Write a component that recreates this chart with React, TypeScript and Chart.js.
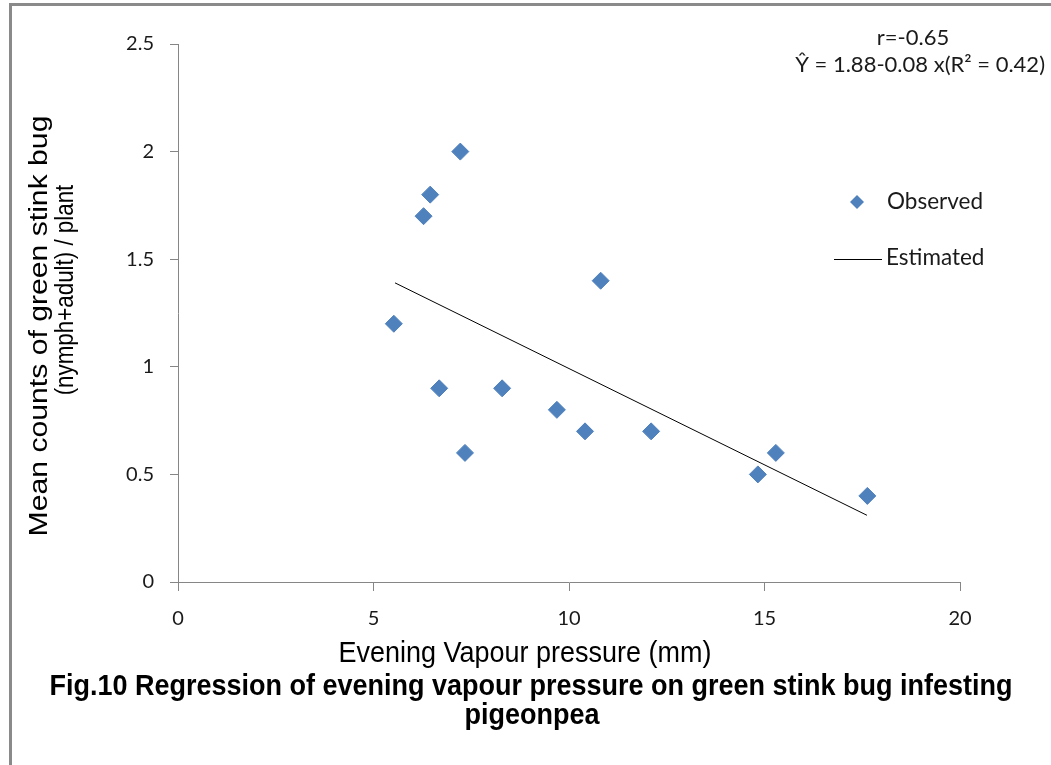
import React, { useEffect, useRef } from "react";
import { Chart, registerables } from "chart.js";

Chart.register(...registerables);

// Observed evening vapour pressure (mm) and mean bug counts per plant
const vapourPressure = [5.52, 6.28, 6.45, 7.22, 6.68, 7.34, 8.29, 9.69, 10.41, 10.81, 12.1, 14.83, 15.29, 17.63];
const bugCounts = [1.2, 1.7, 1.8, 2.0, 0.9, 0.6, 0.9, 0.8, 0.7, 1.4, 0.7, 0.5, 0.6, 0.4];

// Fitted regression line end points
const estimatedX = [5.55, 17.62];
const estimatedY = [1.39, 0.31];

const xTicks = { min: 0, max: 20, step: 5 };
const yTicks = { min: 0, max: 2.5, step: 0.5 };

const yTitleLines = ["Mean counts of green stink bug", "(nymph+adult) / plant"];
const xTitle = "Evening Vapour pressure (mm)";
const captionLines = [
  "Fig.10 Regression of evening vapour pressure on green stink bug infesting",
  "pigeonpea",
];
const statLines = ["r=-0.65", "Ŷ = 1.88-0.08 x(R² = 0.42)"];

const W = 1051;
const H = 765;
const AXIS_GREY = "#868686";
const MARKER_BLUE = "#4F81BD";

type TextOpts = {
  align?: CanvasTextAlign;
  baseline?: CanvasTextBaseline;
  color?: string;
  rotate?: number;
  sx?: number;
  sy?: number;
};

function drawText(
  ctx: CanvasRenderingContext2D,
  text: string,
  x: number,
  y: number,
  font: string,
  o: TextOpts = {}
) {
  ctx.save();
  ctx.translate(x, y);
  if (o.rotate) ctx.rotate(o.rotate);
  ctx.scale(o.sx ?? 1, o.sy ?? 1);
  ctx.font = font;
  ctx.fillStyle = o.color ?? "#000";
  ctx.textAlign = o.align ?? "left";
  ctx.textBaseline = o.baseline ?? "alphabetic";
  ctx.fillText(text, 0, 0);
  ctx.restore();
}

const decorations = {
  id: "figureDecorations",
  afterDraw(chart: Chart) {
    const ctx = chart.ctx;
    ctx.save();

    // figure frame (top and left edges)
    ctx.fillStyle = "#8a8a8a";
    ctx.fillRect(9, 3, W - 9, 3);
    ctx.fillRect(9, 3, 3, H - 3);

    // y-axis title, two rotated lines
    const yFont = "26px 'Liberation Sans', Arial, sans-serif";
    drawText(ctx, yTitleLines[0], 47, 326, yFont, { align: "center", rotate: -Math.PI / 2, sx: 1.16 });
    drawText(ctx, yTitleLines[1], 73, 290, yFont, { align: "center", rotate: -Math.PI / 2, sx: 0.86 });

    // x-axis title
    drawText(ctx, xTitle, 525, 662, "27px 'Liberation Sans', Arial, sans-serif", { align: "center", sy: 1.08 });

    // caption
    const capFont = "bold 27px 'Liberation Sans', Arial, sans-serif";
    drawText(ctx, captionLines[0], 531, 695, capFont, { align: "center", sy: 1.08 });
    drawText(ctx, captionLines[1], 532, 724, capFont, { align: "center", sy: 1.08 });

    // regression statistics
    const statFont = "22px Lato, 'Open Sans', sans-serif";
    drawText(ctx, statLines[0], 913, 45, statFont, { align: "center", color: "#1a1a1a" });
    drawText(ctx, statLines[1], 1045, 72, statFont, { align: "right", color: "#1a1a1a" });

    // legend
    const lx = 857;
    const ly = 202;
    const r = 7;
    ctx.fillStyle = MARKER_BLUE;
    ctx.beginPath();
    ctx.moveTo(lx - r, ly);
    ctx.lineTo(lx, ly - r);
    ctx.lineTo(lx + r, ly);
    ctx.lineTo(lx, ly + r);
    ctx.closePath();
    ctx.fill();
    const legFont = "22.5px Lato, 'Open Sans', sans-serif";
    drawText(ctx, "Observed", 887, ly, legFont, { baseline: "middle", color: "#1a1a1a" });
    ctx.strokeStyle = "#000";
    ctx.lineWidth = 1;
    ctx.beginPath();
    ctx.moveTo(834, 259.5);
    ctx.lineTo(882, 259.5);
    ctx.stroke();
    drawText(ctx, "Estimated", 886, 258, legFont, { baseline: "middle", color: "#1a1a1a" });

    ctx.restore();
  },
};

export default function App() {
  const canvasRef = useRef<HTMLCanvasElement | null>(null);

  useEffect(() => {
    const canvas = canvasRef.current;
    if (!canvas) return;

    const observed = vapourPressure.map((x, i) => ({ x, y: bugCounts[i] }));
    const estimated = estimatedX.map((x, i) => ({ x, y: estimatedY[i] }));

    const tickFont = { family: "Lato, 'Open Sans', sans-serif", size: 20 };
    const plainNumber = (v: string | number) => String(Number(v));

    const chart = new Chart(canvas, {
      type: "scatter",
      data: {
        datasets: [
          {
            label: "Estimated",
            data: estimated,
            showLine: true,
            borderColor: "#000",
            borderWidth: 1,
            pointRadius: 0,
            fill: false,
            order: 2,
          },
          {
            label: "Observed",
            data: observed,
            pointStyle: "rectRot",
            pointRadius: 8.5,
            pointBackgroundColor: MARKER_BLUE,
            pointBorderColor: MARKER_BLUE,
            pointBorderWidth: 1,
            showLine: false,
            order: 1,
          },
        ],
      },
      options: {
        animation: false,
        responsive: false,
        devicePixelRatio: 1,
        layout: { padding: { top: 44, right: W - 960, left: 0, bottom: 0 } },
        plugins: {
          legend: { display: false },
          tooltip: { enabled: false },
          title: { display: false },
        },
        scales: {
          x: {
            type: "linear",
            min: xTicks.min,
            max: xTicks.max,
            ticks: { stepSize: xTicks.step, font: tickFont, color: "#1a1a1a", padding: 16, callback: plainNumber },
            grid: { drawOnChartArea: false, drawTicks: true, tickLength: 9, color: AXIS_GREY },
            border: { color: AXIS_GREY, width: 1 },
            afterFit: (s: any) => {
              s.height = H - 582;
            },
          },
          y: {
            type: "linear",
            min: yTicks.min,
            max: yTicks.max,
            ticks: { stepSize: yTicks.step, font: tickFont, color: "#1a1a1a", padding: 16, callback: plainNumber },
            grid: { drawOnChartArea: false, drawTicks: true, tickLength: 8, color: AXIS_GREY },
            border: { color: AXIS_GREY, width: 1 },
            afterFit: (s: any) => {
              s.width = 178;
            },
          },
        },
      },
      plugins: [decorations],
    });

    return () => chart.destroy();
  }, []);

  return (
    <div style={{ position: "absolute", left: 0, top: 0, width: W, height: H, background: "#fff" }}>
      <canvas ref={canvasRef} width={W} height={H} />
    </div>
  );
}
